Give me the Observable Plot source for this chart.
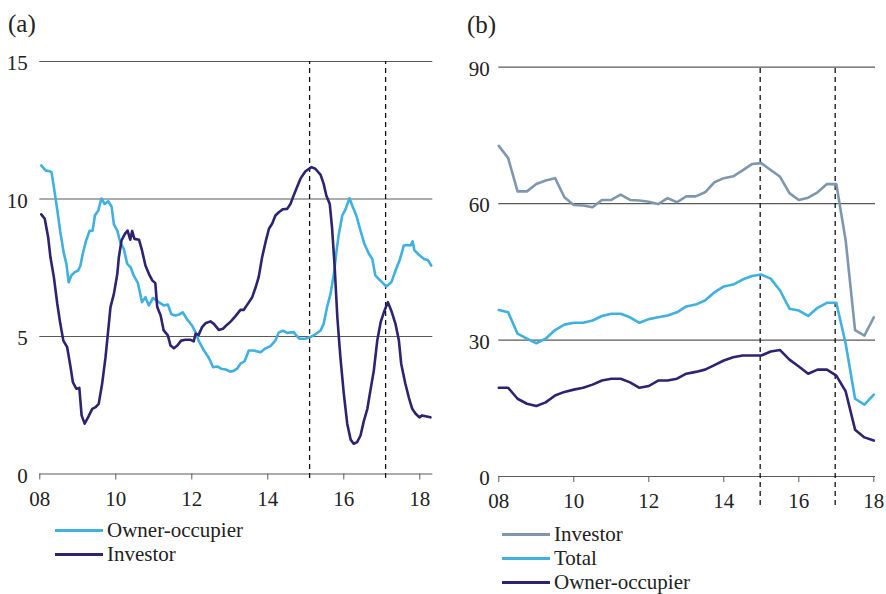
<!DOCTYPE html>
<html>
<head>
<meta charset="utf-8">
<script src="https://cdn.jsdelivr.net/npm/d3@7"></script>
<script src="https://cdn.jsdelivr.net/npm/@observablehq/plot@0.6"></script>
<style>
  html, body { margin: 0; padding: 0; background: #fff; }
  #root { position: relative; width: 886px; height: 594px; font-family: "Liberation Serif", "Times New Roman", serif; color: #222; overflow: hidden; }
  #root svg, #root svg text { font-family: "Liberation Serif", "Times New Roman", serif !important; }
  .panel { position: absolute; }
  .plab { position: absolute; font-size: 25px; line-height: 25px; }
  .leg { position: absolute; font-size: 21px; }
  .row { display: flex; align-items: center; height: 24px; white-space: nowrap; }
  .sw { width: 48px; height: 0; border-top: 3px solid; margin-right: 4px; }
</style>
</head>
<body>
<div id="root">
  <div class="plab" style="left:8px; top:11px;">(a)</div>
  <div class="plab" style="left:467px; top:12px;">(b)</div>
  <div class="panel" id="pa" style="left:0; top:0;"></div>
  <div class="panel" id="pb" style="left:443px; top:0;"></div>
  <div class="leg" id="lega" style="left:55px; top:518px;"></div>
  <div class="leg" id="legb" style="left:502px; top:522px;"></div>
</div>
<script>
// ---------- Panel (a) ----------
const yearsTicks = [2008, 2010, 2012, 2014, 2016, 2018];

const ownerA_x = [8.04,8.15,8.26,8.31,8.37,8.46,8.54,8.63,8.70,8.76,8.83,8.92,9.01,9.07,9.13,9.22,9.31,9.39,9.45,9.54,9.62,9.71,9.80,9.89,9.95,10.04,10.12,10.21,10.30,10.39,10.47,10.58,10.69,10.78,10.87,10.98,11.13,11.26,11.37,11.46,11.57,11.66,11.76,11.88,12.01,12.10,12.18,12.32,12.45,12.56,12.67,12.77,12.89,13.02,13.10,13.19,13.28,13.39,13.50,13.63,13.81,13.94,14.07,14.20,14.29,14.40,14.51,14.60,14.68,14.75,14.83,14.99,15.12,15.25,15.39,15.47,15.56,15.65,15.74,15.81,15.87,15.96,16.05,16.15,16.24,16.33,16.44,16.54,16.66,16.75,16.83,16.92,17.01,17.12,17.25,17.36,17.48,17.58,17.68,17.76,17.81,17.86,17.97,18.11,18.21,18.30];
const ownerA_v = [11.22,11.04,11.01,10.97,10.43,9.60,8.80,8.04,7.64,6.97,7.22,7.34,7.40,7.58,8.01,8.49,8.84,8.85,9.40,9.58,10.02,9.82,9.92,9.72,9.08,8.85,8.41,8.19,7.64,7.52,7.22,6.95,6.25,6.43,6.13,6.40,6.25,6.13,6.16,5.82,5.76,5.80,5.88,5.62,5.39,5.15,4.85,4.49,4.22,3.88,3.91,3.83,3.80,3.72,3.75,3.83,4.01,4.10,4.49,4.49,4.43,4.57,4.65,4.85,5.15,5.21,5.13,5.15,5.16,5.04,4.92,4.92,4.98,5.08,5.22,5.46,6.07,6.55,7.28,8.13,8.73,9.40,9.64,10.03,9.70,9.40,8.85,8.37,8.01,7.82,7.22,7.09,6.97,6.82,6.97,7.39,7.82,8.31,8.33,8.31,8.46,8.13,7.98,7.82,7.78,7.58];

const investorA_x = [8.04,8.13,8.22,8.28,8.37,8.46,8.54,8.62,8.72,8.81,8.87,8.96,9.04,9.10,9.18,9.27,9.38,9.47,9.55,9.64,9.73,9.80,9.86,9.95,10.04,10.08,10.15,10.24,10.31,10.38,10.43,10.49,10.61,10.69,10.78,10.87,10.96,11.04,11.09,11.18,11.26,11.37,11.44,11.53,11.62,11.72,11.83,11.97,12.05,12.10,12.18,12.27,12.36,12.49,12.58,12.71,12.82,12.93,13.02,13.15,13.28,13.37,13.46,13.59,13.68,13.76,13.85,13.94,14.03,14.12,14.20,14.29,14.40,14.51,14.60,14.68,14.77,14.86,14.99,15.15,15.25,15.39,15.47,15.54,15.63,15.69,15.76,15.83,15.91,16.00,16.09,16.18,16.26,16.35,16.44,16.53,16.62,16.70,16.79,16.88,16.97,17.07,17.16,17.25,17.36,17.45,17.51,17.62,17.71,17.80,17.89,17.99,18.06,18.15,18.28];
const investorA_v = [9.44,9.28,8.61,7.88,7.16,6.19,5.46,4.85,4.61,3.88,3.34,3.10,3.13,2.13,1.83,2.06,2.37,2.43,2.55,3.28,4.25,5.22,6.07,6.55,7.28,7.88,8.49,8.73,8.85,8.52,8.84,8.55,8.52,8.13,7.58,7.28,7.04,6.94,6.07,5.76,5.22,5.04,4.67,4.57,4.67,4.85,4.88,4.88,4.82,5.10,5.06,5.34,5.48,5.55,5.46,5.24,5.28,5.43,5.54,5.74,5.97,5.97,6.16,6.43,6.79,7.16,7.88,8.43,8.92,9.12,9.40,9.52,9.63,9.64,9.83,10.13,10.44,10.74,11.01,11.16,11.10,10.88,10.55,10.13,9.82,8.97,7.52,5.70,4.25,2.92,1.83,1.25,1.10,1.16,1.40,1.94,2.37,3.04,3.76,4.85,5.52,5.94,6.25,5.94,5.46,4.85,4.01,3.28,2.79,2.37,2.19,2.06,2.13,2.10,2.06];

const dashA = [2015.1, 2017.1];
const yTicksA = [0, 5, 10, 15];

// ---------- Panel (b) ----------
const quartersB = [2008,2008.25,2008.5,2008.75,2009,2009.25,2009.5,2009.75,2010,2010.25,2010.5,2010.75,2011,2011.25,2011.5,2011.75,2012,2012.25,2012.5,2012.75,2013,2013.25,2013.5,2013.75,2014,2014.25,2014.5,2014.75,2015,2015.25,2015.5,2015.75,2016,2016.25,2016.5,2016.75,2017,2017.25,2017.5,2017.75,2018];
const investorB = [72.7,70.0,62.7,62.7,64.3,65.1,65.6,61.4,59.7,59.6,59.2,60.8,60.8,62.0,60.8,60.7,60.4,59.9,61.2,60.3,61.6,61.6,62.5,64.7,65.6,66.0,67.3,68.7,68.9,67.4,65.9,62.3,60.8,61.3,62.5,64.3,64.3,51.9,32.2,31.0,35.0];
const totalB = [36.6,36.1,31.4,30.3,29.3,30.3,32.2,33.4,33.8,33.8,34.3,35.3,35.8,35.8,35.0,33.8,34.6,35.0,35.4,36.1,37.4,37.8,38.7,40.5,41.8,42.2,43.3,44.1,44.4,43.5,40.9,36.9,36.5,35.3,37.1,38.2,38.2,29.2,17.1,15.8,18.0];
const ownerB = [19.5,19.5,17.1,16.0,15.5,16.3,17.8,18.6,19.1,19.5,20.2,21.1,21.5,21.5,20.7,19.5,19.9,21.1,21.1,21.5,22.6,23.0,23.5,24.5,25.5,26.2,26.6,26.6,26.6,27.5,27.8,25.7,24.2,22.6,23.5,23.5,22.2,18.7,10.3,8.6,7.9];
const dashB = [2014.97, 2016.97];
const yTicksB = [0, 30, 60, 90];

// ---------- Colours ----------
const cLight = "#3fb0e0";
const cNavy = "#2c2470";
const cGrey = "#7f97ae";

const toPts = (xs, vs, off) => xs.map((x, i) => ({x: x + off, v: vs[i]}));
const ownerA = toPts(ownerA_x, ownerA_v, 2000);
const investorA = toPts(investorA_x, investorA_v, 2000);
const seriesB = [
  {name: "Investor", values: investorB, color: cGrey},
  {name: "Total", values: totalB, color: cLight},
  {name: "Owner-occupier", values: ownerB, color: cNavy}
];

const fmtYear = d => String(d).slice(2);
const serif = "'Liberation Serif', 'Times New Roman', serif";
const commonStyle = {fontFamily: serif, fontSize: "21px", color: "#222", background: "transparent", overflow: "visible"};

const plotA = Plot.plot({
  width: 443, height: 520,
  marginLeft: 39.3, marginRight: 10.7, marginTop: 61, marginBottom: 46.5,
  style: commonStyle,
  x: {domain: [2008, 2018.342]},
  y: {domain: [0, 15]},
  marks: [
    Plot.ruleY(yTicksA.filter(d => d > 0), {stroke: "#5a5a5a", strokeWidth: 1.2}),
    Plot.axisY({ticks: yTicksA, tickSize: 0, tickPadding: 12, tickFormat: d => d, dy: 2, label: null, fontFamily: serif}),
    Plot.axisX({ticks: yearsTicks, tickSize: 6, tickPadding: 11, tickFormat: fmtYear, stroke: "#5a5a5a", label: null, fontFamily: serif}),
    Plot.ruleY([0], {stroke: "#5a5a5a", strokeWidth: 1.2}),
    Plot.ruleX(dashA, {y1: -0.16, y2: 15, stroke: "#111", strokeWidth: 1.3, strokeDasharray: "5,4"}),
    Plot.line(ownerA, {x: "x", y: "v", stroke: cLight, strokeWidth: 2.6}),
    Plot.line(investorA, {x: "x", y: "v", stroke: cNavy, strokeWidth: 2.6})
  ]
});
document.getElementById("pa").append(plotA);

const dataB = seriesB.flatMap(s => s.values.map((v, i) => ({x: quartersB[i], v, name: s.name})));

const plotB = Plot.plot({
  width: 443, height: 520,
  marginLeft: 55.3, marginRight: 11, marginTop: 66.7, marginBottom: 44,
  style: commonStyle,
  x: {domain: [2008, 2018.045]},
  y: {domain: [0, 90]},
  color: {domain: seriesB.map(s => s.name), range: seriesB.map(s => s.color)},
  marks: [
    Plot.ruleY(yTicksB.filter(d => d > 0), {stroke: "#5a5a5a", strokeWidth: 1.2}),
    Plot.axisY({ticks: yTicksB, tickSize: 0, tickPadding: 9, tickFormat: d => d, dy: 2, label: null, fontFamily: serif}),
    Plot.axisX({ticks: yearsTicks, tickSize: 6, tickPadding: 11, tickFormat: fmtYear, stroke: "#5a5a5a", label: null, fontFamily: serif}),
    Plot.ruleY([0], {stroke: "#5a5a5a", strokeWidth: 1.2}),
    Plot.ruleX(dashB, {y1: -6.4, y2: 90, stroke: "#111", strokeWidth: 1.3, strokeDasharray: "5,4"}),
    Plot.line(dataB, {x: "x", y: "v", z: "name", stroke: "name", strokeWidth: 2.6})
  ]
});
document.getElementById("pb").append(plotB);

// ---------- Legends ----------
function legend(el, items) {
  for (const it of items) {
    const row = document.createElement("div");
    row.className = "row";
    const sw = document.createElement("span");
    sw.className = "sw";
    sw.style.borderTopColor = it.color;
    const t = document.createElement("span");
    t.textContent = it.name;
    row.append(sw, t);
    el.append(row);
  }
}
legend(document.getElementById("lega"), [{name: "Owner-occupier", color: cLight}, {name: "Investor", color: cNavy}]);
legend(document.getElementById("legb"), seriesB);
</script>
</body>
</html>
